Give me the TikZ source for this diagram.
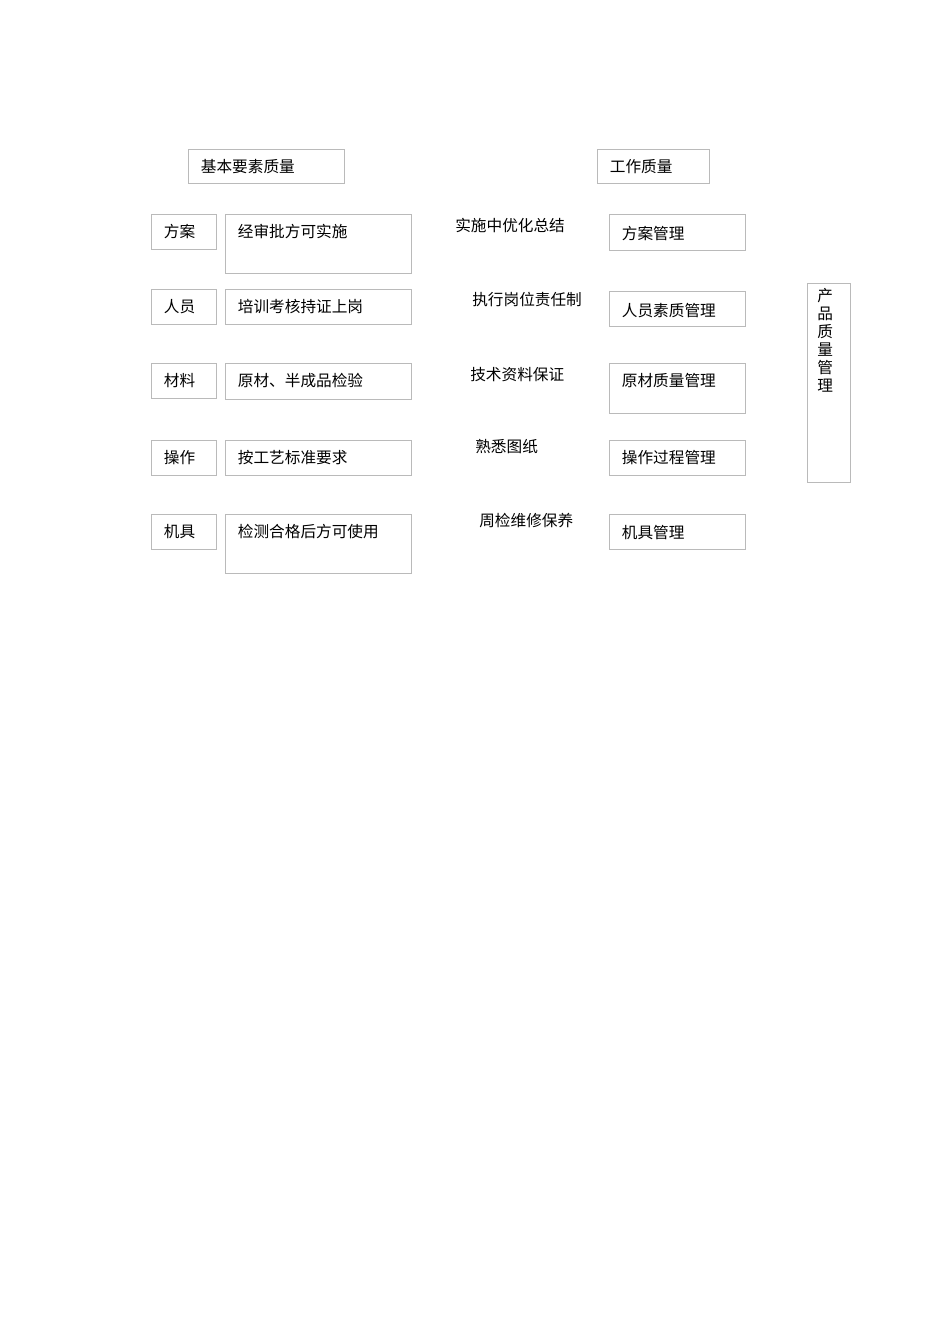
\documentclass[tikz,border=0pt]{standalone}
\usepackage{fontspec}
\setmainfont{Noto Sans CJK SC}
\usepackage{tikz}
\tikzset{
    font=\fontsize{9.8}{11.3}\selectfont,
    cell/.style={draw=black!27,line width=0.6pt,anchor=north west,align=left,
        inner xsep=7.8pt,inner ysep=0pt,text height=14.6pt},
    key cell/.style={cell,text width=25.1pt,text depth=7.3pt},
    rule cell/.style={cell,text width=100.9pt},
    work cell/.style={cell,text width=69.6pt},
    head cell/.style={cell,text depth=6.7pt},
    plain text/.style={anchor=base west,inner sep=0pt}
}
\begin{document}
\begin{tikzpicture}[x=0.6263pt,y=-0.6263pt]
    \useasboundingbox[fill=white] (0,0) rectangle (950,1344);
    % headings
    \node[head cell,text width=82.1pt] (basic) at (188,149) {基本要素质量};
    \node[head cell,text width=54.5pt] (work) at (597,149) {工作质量};
    % elements
    \node[key cell] (fa) at (151,214) {方案};
    \node[key cell] (ry) at (151,289) {人员};
    \node[key cell] (cl) at (151,363) {材料};
    \node[key cell] (cz) at (151,440) {操作};
    \node[key cell] (jj) at (151,514) {机具};
    % requirements
    \node[rule cell,text depth=22.4pt] (fa r) at (225,214) {经审批方可实施};
    \node[rule cell,text depth=7.3pt] (ry r) at (225,289) {培训考核持证上岗};
    \node[rule cell,text depth=7.8pt] (cl r) at (225,363) {原材、半成品检验};
    \node[rule cell,text depth=7.3pt] (cz r) at (225,440) {按工艺标准要求};
    \node[rule cell,text depth=22.4pt] (jj r) at (225,514) {检测合格后方可使用};
    % measures
    \node[plain text] (fa m) at (455,231.3) {实施中优化总结};
    \node[plain text] (ry m) at (472,305.3) {执行岗位责任制};
    \node[plain text] (cl m) at (470,380.3) {技术资料保证};
    \node[plain text] (cz m) at (475,452.3) {熟悉图纸};
    \node[plain text] (jj m) at (479,526.3) {周检维修保养};
    % management
    \node[work cell,text height=15.8pt,text depth=6.7pt] (fa w) at (609,214) {方案管理};
    \node[work cell,text height=15.8pt,text depth=6.1pt] (ry w) at (609,291) {人员素质管理};
    \node[work cell,text depth=16.7pt] (cl w) at (609,363) {原材质量管理};
    \node[work cell,text depth=7.3pt] (cz w) at (609,440) {操作过程管理};
    \node[work cell,text height=15.2pt,text depth=6.7pt] (jj w) at (609,514) {机具管理};
    % product
    \node[cell,text width=14.4pt,inner xsep=6.26pt,text height=11.3pt,text depth=113.3pt]
        (product) at (807,283) {产\\品\\质\\量\\管\\理};
\end{tikzpicture}
\end{document}
